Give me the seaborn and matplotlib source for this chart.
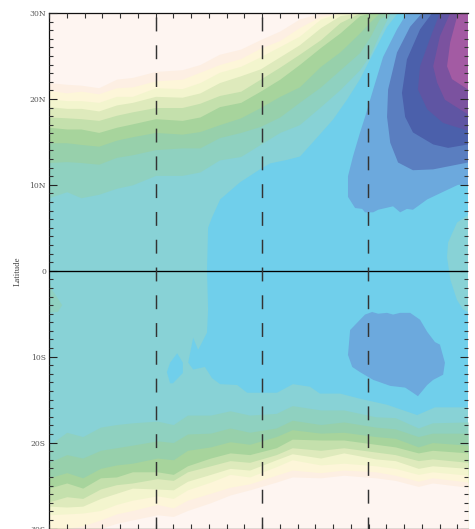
import matplotlib
matplotlib.use("Agg")
import matplotlib.pyplot as plt
from matplotlib.ticker import MultipleLocator
import seaborn as sns

sns.set_style("ticks")
plt.rcParams["lines.scale_dashes"] = False
plt.rcParams["font.family"] = ["DejaVu Serif"]

lat_labels = ["30S", "20S", "10S", "0", "10N", "20N", "30N"]
lat_ticks = [-30, -20, -10, 0, 10, 20, 30]
meridians = [30, 60, 89.9]

# level colours, from low to high
band_hex = ["#FEF5F1", "#FDEFE3", "#FDF6D9", "#F3F5CE", "#DEEABC", "#C4E0AC",
            "#A7D49C", "#97D0AB", "#8FD1C0", "#88D2D6", "#70CFEB",
            "#6CA9DD", "#5A7EC0", "#4B60AB", "#5F55A3", "#7B529F", "#A35BA3"]
band_colors = sns.color_palette(band_hex)

# northern contour latitudes (index of colour above the curve is in the name)
north_lon = [0, 5, 9, 14, 19, 23.5, 30, 37.5, 42.5, 48, 54, 59.5, 65, 70.5, 76.5, 82, 87.5, 90.5, 93, 96, 99]
n_mint = [8.5, 9.2, 8.5, 8.9, 9.6, 10.0, 11.1, 11.1, 11.5, 12.9, 13.3, 14.7, 16.1, 17.0, 19.1, 21.1, 23.4, 25.2, 27.5, 29.95, 30]
n_sea = [12.6, 12.7, 12.6, 12.4, 13.2, 13.5, 14.1, 14.3, 14.3, 15.5, 16.1, 16.8, 17.9, 19.6, 21.4, 23.4, 25.4, 27.3, 29.3, 30, 30]
n_green = [14.9, 14.9, 14.7, 14.5, 15.2, 15.6, 16.1, 15.9, 16.2, 17.0, 17.8, 19.0, 20.3, 21.4, 23.8, 25.5, 27.7, 29.0, 30, 30, 30]
n_light = [16.7, 16.5, 16.5, 16.1, 16.7, 17.1, 17.7, 17.5, 17.9, 19.1, 19.6, 20.9, 22.3, 24.0, 26.0, 27.7, 29.7, 30, 30, 30, 30]
n_pale = [17.9, 17.8, 17.7, 17.5, 18.1, 18.5, 19.0, 19.0, 19.5, 20.4, 20.9, 22.3, 23.7, 25.2, 26.9, 28.9, 30, 30, 30, 30, 30]
n_lemon = [19.1, 18.9, 18.9, 18.6, 19.3, 19.6, 20.3, 20.2, 20.7, 21.9, 22.7, 23.5, 24.9, 26.3, 28.3, 29.7, 30, 30, 30, 30, 30]
n_cream = [20.0, 19.8, 19.8, 19.6, 20.3, 20.3, 21.3, 21.2, 21.9, 23.1, 23.8, 24.9, 26.1, 27.3, 29.3, 30, 30, 30, 30, 30, 30]
n_peach = [21.0, 20.7, 20.9, 20.6, 21.3, 21.4, 22.1, 22.3, 23.1, 24.0, 24.7, 25.9, 26.8, 28.3, 29.6, 30, 30, 30, 30, 30, 30]
n_rose = [21.9, 21.7, 21.6, 21.3, 22.3, 22.5, 23.2, 23.4, 24.0, 25.2, 25.8, 26.9, 27.9, 29.3, 30, 30, 30, 30, 30, 30, 30]
north_curves = [n_mint, n_sea, n_green, n_light, n_pale, n_lemon, n_cream, n_peach, n_rose]

# southern contour latitudes
south_lon = [0, 5, 9.5, 14.5, 19, 23.5, 30.5, 35, 39, 45.5, 51, 56.5, 64, 68.5, 76.5, 83, 92, 97.5, 104, 108, 118]
s_mint = [-20.3, -18.8, -19.3, -18.2, -17.9, -17.7, -17.5, -17.9, -16.8, -16.8, -16.3, -16.8, -16.6, -15.7, -16.2, -16.2, -17.0, -17.1, -18.3, -17.7, -17.6]
s_sea = [-22.3, -21.4, -21.8, -20.9, -20.6, -20.3, -19.8, -20.0, -19.0, -18.9, -18.3, -18.8, -18.3, -17.4, -17.9, -17.6, -18.2, -18.4, -19.3, -18.9, -18.9]
s_green = [-24.1, -23.5, -24.1, -23.0, -22.6, -22.4, -21.8, -22.0, -20.9, -20.5, -19.9, -20.2, -19.3, -18.5, -18.9, -18.8, -19.3, -19.5, -20.5, -20.0, -20.3]
s_light = [-25.3, -24.7, -25.3, -24.1, -24.0, -23.4, -23.4, -23.7, -22.7, -21.8, -21.2, -21.4, -20.6, -19.6, -19.7, -19.7, -20.2, -20.5, -21.2, -20.9, -21.2]
s_pale = [-26.9, -26.3, -26.5, -25.4, -24.9, -24.7, -24.2, -24.4, -23.4, -22.7, -22.1, -22.3, -21.4, -20.6, -20.9, -20.6, -21.1, -21.4, -22.1, -21.9, -22.3]
s_lemon = [-27.4, -27.5, -27.4, -26.5, -25.9, -25.3, -25.4, -25.5, -24.5, -23.7, -23.0, -23.2, -22.0, -21.3, -21.8, -21.2, -21.9, -22.1, -23.0, -22.7, -23.0]
s_cream = [-28.4, -28.3, -28.2, -27.9, -27.2, -26.7, -26.2, -26.5, -25.5, -24.6, -23.7, -24.0, -22.8, -22.0, -22.6, -22.4, -22.7, -23.0, -23.7, -23.4, -23.8]
s_peach = [-30, -30, -29.7, -29.0, -28.3, -27.9, -27.2, -27.6, -26.7, -25.9, -25.2, -24.8, -23.8, -23.2, -23.5, -23.2, -23.4, -23.8, -24.5, -24.1, -24.6]
s_rose = [-30, -30, -30, -30, -29.4, -29.0, -28.4, -28.6, -27.9, -27.0, -26.1, -25.5, -24.6, -24.0, -24.1, -23.8, -24.1, -24.4, -25.1, -24.7, -25.2]
south_curves = [s_mint, s_sea, s_green, s_light, s_pale, s_lemon, s_cream, s_peach, s_rose]

# closed contours
sky_lon = [98.3, 95.2, 89.9, 87.6, 83.9, 80.0, 74.4, 70.7, 67.0, 62.3, 59.4, 53.8, 48.2, 45.9, 44.8, 44.5, 44.8, 44.5, 42.0, 40.6, 39.2, 40.6, 43.9, 45.9, 48.2, 53.0, 55.8, 64.2, 68.7, 73.5, 76.3, 82.0, 87.6, 95.2, 103.7, 108.7, 117.7, 118, 118]
sky_lat = [30, 28.4, 24.2, 22.3, 19.9, 17.6, 15.0, 13.3, 12.9, 12.5, 11.8, 10.3, 8.3, 6.2, 5.0, 0, -4.5, -7.2, -9.2, -7.8, -10.7, -11.5, -11.2, -12.5, -13.2, -13.3, -14.2, -14.2, -13.2, -13.5, -14.3, -14.3, -14.9, -15.6, -16.8, -15.9, -15.9, -15.9, 30]
sky_spot_lon = [36.1, 37.7, 37.7, 34.9, 34.1, 33.2, 34.1]
sky_spot_lat = [-9.6, -10.7, -11.9, -13.1, -13.1, -11.8, -10.7]
teal_spot_lon = [118, 114.9, 112.4, 112.1, 113, 114.9, 116.6, 118]
teal_spot_lat = [6.5, 5.6, 3.3, 1.6, -1.0, -3.4, -4.5, -4.8]
mint_spot_lon = [0, 0.8, 2.3, 3.7, 2.5, 0]
mint_spot_lat = [-1.0, -2.2, -3.1, -4.0, -4.8, -4.9]
blue_n_lon = [100.8, 98.0, 94.1, 91.3, 89.0, 87.6, 85.6, 84.2, 84.2, 86.2, 88.2, 89.0, 91.3, 92.7, 96.9, 98.9, 100.8, 102.5, 106.5, 112.1, 115.2, 118, 118]
blue_n_lat = [30, 28.1, 24.9, 21.1, 17.9, 16.1, 13.3, 11.0, 8.6, 7.3, 7.2, 6.8, 6.8, 7.1, 7.5, 6.8, 7.2, 7.1, 8.3, 9.4, 10.0, 10.0, 30]
blue_s_lon = [91.0, 92.7, 95.2, 96.9, 98.9, 101.7, 104.5, 106.5, 108.7, 110.1, 111.5, 111.0, 108.2, 106.5, 103.9, 102.5, 100.3, 96.1, 91.3, 87.6, 85.4, 84.2, 84.8, 87.6, 89.0]
blue_s_lat = [-4.8, -5.0, -4.9, -5.1, -4.9, -4.9, -5.7, -7.1, -8.3, -8.6, -10.7, -12.1, -12.7, -13.3, -14.6, -14.2, -13.6, -13.4, -12.7, -11.8, -11.2, -9.8, -6.9, -5.7, -5.1]
steel_lon = [105.1, 101.7, 98.0, 95.5, 95.2, 96.1, 98.3, 102.5, 108.2, 118, 118]
steel_lat = [30, 28.4, 25.4, 21.1, 17.9, 14.9, 12.6, 11.7, 11.8, 12.6, 30]
indigo_lon = [107.9, 104.5, 100.8, 99.4, 100.3, 102.5, 108.2, 112.4, 118, 118]
indigo_lat = [30, 28.1, 24.6, 20.7, 17.9, 16.1, 14.7, 14.3, 14.7, 30]
violet_lon = [110.1, 107.9, 104.5, 103.9, 106.5, 111, 118, 118]
violet_lat = [30, 27.7, 23.8, 21.1, 18.8, 17.2, 16.3, 30]
purple_lon = [113, 110.1, 108.2, 109.3, 111.5, 118, 118]
purple_lat = [30, 27.3, 23.8, 21.9, 19.9, 18.2, 30]
magenta_lon = [115.2, 113, 112.1, 113.5, 118, 118]
magenta_lat = [30, 26.6, 23.8, 22.3, 21.1, 30]

W, H = 475, 529
fig = plt.figure(figsize=(W / 100, H / 100), dpi=100)
ax = fig.add_axes([49 / W, 0.5 / H, (468 - 49) / W, (528.5 - 13) / H])
ax.set_xlim(0, 118)
ax.set_ylim(-30, 30)
ax.set_facecolor(band_colors[9])
ax.set_axisbelow(False)


def area(lon, lat, idx):
    ax.fill(lon, lat, color=band_colors[idx], lw=0, zorder=1)


area(sky_lon, sky_lat, 10)
area(sky_spot_lon, sky_spot_lat, 10)
area(teal_spot_lon, teal_spot_lat, 9)
area(mint_spot_lon, mint_spot_lat, 8)
area(blue_n_lon, blue_n_lat, 11)
area(blue_s_lon, blue_s_lat, 11)
area(steel_lon, steel_lat, 12)
area(indigo_lon, indigo_lat, 13)
area(violet_lon, violet_lat, 14)
area(purple_lon, purple_lat, 15)
area(magenta_lon, magenta_lat, 16)

for i, curve in enumerate(north_curves):
    ax.fill_between(north_lon, curve, 30, color=band_colors[8 - i], lw=0, zorder=2)
for i, curve in enumerate(south_curves):
    ax.fill_between(south_lon, curve, -30, color=band_colors[8 - i], lw=0, zorder=2)

sns.lineplot(x=[0, 118], y=[0, 0], color="black", lw=0.95, estimator=None, sort=False, ax=ax, zorder=4)
for m in meridians:
    sns.lineplot(x=[m, m], y=[30, -30], color="#333333", lw=1.05, estimator=None, sort=False,
                 linestyle=(17.1, (10.0, 10.0)), dash_capstyle="butt", ax=ax, zorder=4)

ax.set_yticks(lat_ticks)
ax.set_yticklabels(lat_labels, fontsize=5.5, color="#555555")
ax.yaxis.set_minor_locator(MultipleLocator(1))
ax.xaxis.set_major_locator(MultipleLocator(5))
ax.tick_params(axis="y", which="major", direction="in", length=5.8, width=0.8, color="#222222",
               left=True, right=True, pad=2.2)
ax.tick_params(axis="y", which="minor", direction="in", length=2.9, width=0.8, color="#333333",
               left=True, right=True)
ax.tick_params(axis="x", which="major", direction="in", length=3.6, width=0.8, color="#333333",
               top=True, bottom=True, labelbottom=False)
for s in ["top", "left", "bottom"]:
    ax.spines[s].set_linewidth(0.9)
    ax.spines[s].set_color("#111111")
ax.spines["right"].set_visible(False)

fig.text(18 / W, 1 - 271 / H, "Latitude", rotation=90, ha="center", va="center",
         fontsize=6.3, color="#444444", family="Liberation Serif")

fig.savefig("out.png", dpi=100)
